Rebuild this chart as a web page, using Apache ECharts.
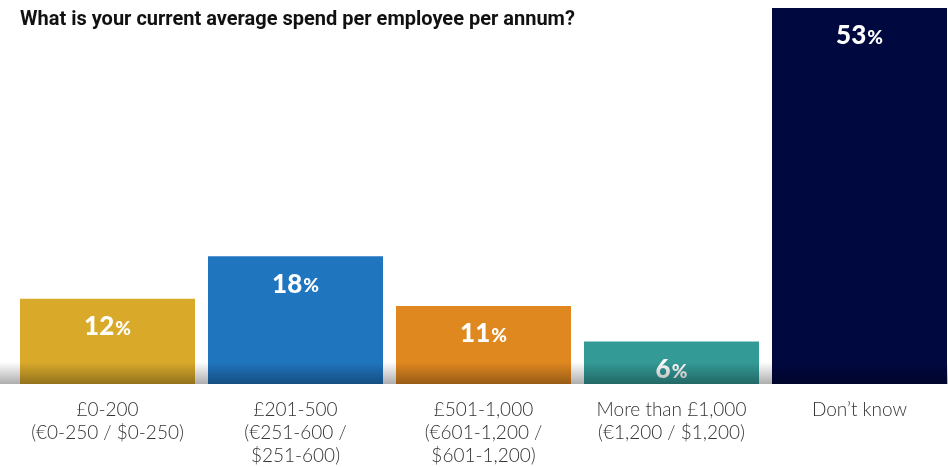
<!DOCTYPE html>
<html>
<head>
<meta charset="utf-8">
<script src="https://cdn.jsdelivr.net/npm/echarts@6/dist/echarts.min.js"></script>
<style>
  html, body { margin: 0; padding: 0; background: #ffffff; overflow: hidden; }
  #chart { width: 954px; height: 467px; }
</style>
</head>
<body>
<div id="chart"></div>
<script>
// Spend brackets and share of respondents (%)
const categories = [
  '£0-200\n(€0-250 / $0-250)',
  '£201-500\n(€251-600 /\n$251-600)',
  '£501-1,000\n(€601-1,200 /\n$601-1,200)',
  'More than £1,000\n(€1,200 / $1,200)',
  'Don\u2019t know'
];
const shares = [12, 18, 11, 6, 53];
const barColors = ['#D9A92A', '#2075BF', '#E08820', '#339A96', '#000840'];

const chart = echarts.init(document.getElementById('chart'), null, { renderer: 'canvas' });

chart.setOption({
  animation: false,
  backgroundColor: '#ffffff',
  title: {
    text: 'What is your current average spend per employee per annum?',
    left: 20,
    top: 10,
    padding: 0,
    textStyle: { fontFamily: 'Roboto', fontWeight: 'bold', fontSize: 20, color: '#111111' }
  },
  grid: { left: 13.5, width: 940, top: 8, bottom: 83, containLabel: false },
  xAxis: {
    type: 'category',
    data: categories,
    axisLine: { show: false },
    axisTick: { show: false },
    axisLabel: {
      interval: 0,
      margin: 14,
      fontFamily: 'Lato',
      fontWeight: 300,
      fontSize: 19,
      lineHeight: 23,
      color: '#333333'
    }
  },
  yAxis: {
    type: 'value',
    min: 0,
    max: 53,
    show: false,
    splitLine: { show: false }
  },
  series: [{
    type: 'bar',
    data: shares.map((v, i) => ({ value: v, itemStyle: { color: barColors[i] } })),
    barWidth: 175,
    label: {
      show: true,
      position: 'insideTop',
      distance: 15,
      formatter: p => '{n|' + p.value + '}{p|%}',
      rich: {
        n: { fontFamily: 'Lato', fontWeight: 900, fontSize: 26, color: '#ffffff' },
        p: { fontFamily: 'Lato', fontWeight: 900, fontSize: 19, color: '#ffffff', padding: [4, 0, 0, 1] }
      }
    }
  }],
  graphic: [{
    // soft floor shadow along the baseline
    type: 'rect',
    z: 100,
    silent: true,
    shape: { x: 0, y: 362, width: 954, height: 22 },
    style: {
      fill: new echarts.graphic.LinearGradient(0, 0, 0, 1, [
        { offset: 0, color: 'rgba(0,0,0,0)' },
        { offset: 1, color: 'rgba(0,0,0,0.32)' }
      ])
    }
  }]
});
</script>
</body>
</html>
